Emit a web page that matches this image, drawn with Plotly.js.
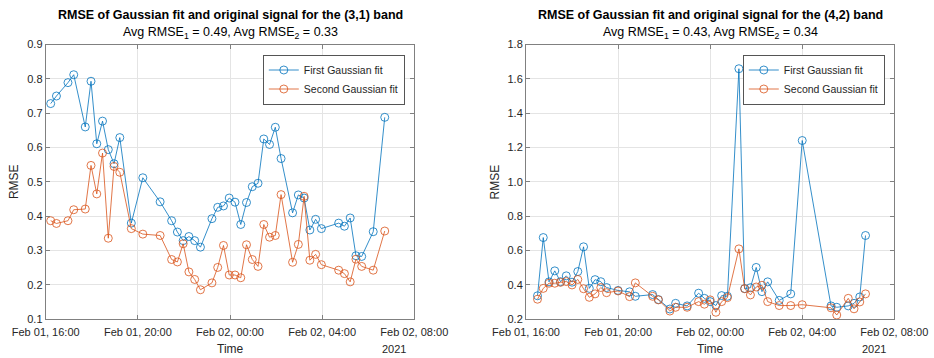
<!DOCTYPE html>
<html>
<head>
<meta charset="utf-8">
<script src="https://cdn.plot.ly/plotly-3.0.1.min.js"></script>
<style>
  html, body { margin: 0; padding: 0; background: #ffffff; }
  #chart { width: 934px; height: 358px; }
</style>
</head>
<body>
<div id="chart"></div>
<script>
// ---- (3,1) band ----
const timesBand31 = [
  '2021-02-01 16:13', '2021-02-01 16:28', '2021-02-01 16:58', '2021-02-01 17:13', '2021-02-01 17:43',
  '2021-02-01 17:58', '2021-02-01 18:13', '2021-02-01 18:28', '2021-02-01 18:43', '2021-02-01 18:58',
  '2021-02-01 19:13', '2021-02-01 19:43', '2021-02-01 20:13', '2021-02-01 20:58', '2021-02-01 21:28',
  '2021-02-01 21:43', '2021-02-01 21:58', '2021-02-01 22:13', '2021-02-01 22:28', '2021-02-01 22:43',
  '2021-02-01 23:13', '2021-02-01 23:28', '2021-02-01 23:43', '2021-02-01 23:58', '2021-02-02 00:13',
  '2021-02-02 00:28', '2021-02-02 00:43', '2021-02-02 00:58', '2021-02-02 01:13', '2021-02-02 01:28',
  '2021-02-02 01:43', '2021-02-02 01:58', '2021-02-02 02:13', '2021-02-02 02:43', '2021-02-02 02:58',
  '2021-02-02 03:13', '2021-02-02 03:28', '2021-02-02 03:43', '2021-02-02 03:58', '2021-02-02 04:43',
  '2021-02-02 04:58', '2021-02-02 05:13', '2021-02-02 05:28', '2021-02-02 05:43', '2021-02-02 06:13',
  '2021-02-02 06:43'
];
const firstFit31 = [
  0.728, 0.750, 0.789, 0.812, 0.660, 0.793, 0.611, 0.677, 0.594, 0.553,
  0.629, 0.380, 0.512, 0.442, 0.387, 0.354, 0.329, 0.341, 0.329, 0.310,
  0.393, 0.426, 0.430, 0.453, 0.441, 0.376, 0.440, 0.486, 0.496, 0.625,
  0.609, 0.659, 0.568, 0.410, 0.462, 0.453, 0.360, 0.391, 0.364, 0.380,
  0.371, 0.395, 0.285, 0.283, 0.355, 0.688
];
const secondFit31 = [
  0.387, 0.379, 0.387, 0.419, 0.421, 0.548, 0.465, 0.584, 0.336, 0.545,
  0.528, 0.364, 0.348, 0.344, 0.274, 0.267, 0.320, 0.238, 0.216, 0.186,
  0.206, 0.251, 0.315, 0.229, 0.229, 0.221, 0.317, 0.274, 0.254, 0.376,
  0.339, 0.344, 0.463, 0.266, 0.318, 0.458, 0.272, 0.289, 0.259, 0.243,
  0.233, 0.209, 0.275, 0.254, 0.243, 0.357
];

// ---- (4,2) band ----
const timesBand42 = [
  '2021-02-01 16:30', '2021-02-01 16:45', '2021-02-01 17:00', '2021-02-01 17:15', '2021-02-01 17:30',
  '2021-02-01 17:45', '2021-02-01 18:00', '2021-02-01 18:15', '2021-02-01 18:30', '2021-02-01 18:45',
  '2021-02-01 19:00', '2021-02-01 19:15', '2021-02-01 19:30', '2021-02-01 20:00', '2021-02-01 20:30',
  '2021-02-01 20:45', '2021-02-01 21:30', '2021-02-01 21:45', '2021-02-01 22:15', '2021-02-01 22:30',
  '2021-02-01 23:00', '2021-02-01 23:30', '2021-02-01 23:45', '2021-02-02 00:00', '2021-02-02 00:15',
  '2021-02-02 00:30', '2021-02-02 00:45', '2021-02-02 01:15', '2021-02-02 01:30', '2021-02-02 01:45',
  '2021-02-02 02:00', '2021-02-02 02:15', '2021-02-02 02:30', '2021-02-02 03:00', '2021-02-02 03:30',
  '2021-02-02 04:00', '2021-02-02 05:15', '2021-02-02 05:30', '2021-02-02 06:00', '2021-02-02 06:15',
  '2021-02-02 06:30', '2021-02-02 06:45'
];
const firstFit42 = [
  0.337, 0.676, 0.418, 0.482, 0.419, 0.453, 0.416, 0.478, 0.622, 0.380,
  0.431, 0.419, 0.385, 0.368, 0.360, 0.334, 0.344, 0.315, 0.260, 0.293,
  0.278, 0.352, 0.322, 0.303, 0.280, 0.338, 0.334, 1.659, 0.379, 0.384,
  0.502, 0.361, 0.418, 0.310, 0.348, 1.241, 0.278, 0.270, 0.278, 0.293,
  0.330, 0.688
];
const secondFit42 = [
  0.317, 0.380, 0.410, 0.410, 0.415, 0.420, 0.400, 0.432, 0.378, 0.328,
  0.348, 0.385, 0.355, 0.365, 0.332, 0.412, 0.334, 0.313, 0.248, 0.270,
  0.270, 0.303, 0.288, 0.313, 0.241, 0.303, 0.326, 0.610, 0.378, 0.342,
  0.388, 0.398, 0.303, 0.280, 0.280, 0.285, 0.267, 0.225, 0.322, 0.261,
  0.301, 0.348
];

// ---- shared labels ----
const tickTimes = ['2021-02-01 16:00', '2021-02-01 20:00', '2021-02-02 00:00', '2021-02-02 04:00', '2021-02-02 08:00'];
const tickLabels = ['Feb 01, 16:00', 'Feb 01, 20:00', 'Feb 02, 00:00', 'Feb 02, 04:00', 'Feb 02, 08:00'];
const seriesNames = ['First Gaussian fit', 'Second Gaussian fit'];
const bandTitles = [
  'RMSE of Gaussian fit and original signal for the (3,1) band',
  'RMSE of Gaussian fit and original signal for the (4,2) band'
];
const avgLabels = [
  'Avg RMSE<sub>1</sub> = 0.49, Avg RMSE<sub>2</sub> = 0.33',
  'Avg RMSE<sub>1</sub> = 0.43, Avg RMSE<sub>2</sub> = 0.34'
];
const yearLabel = '2021';
const xLabel = 'Time';
const yLabel = 'RMSE';

// ---- styling ----
const W = 934, H = 358;
const FONT = 'Liberation Sans, Arial, Helvetica, sans-serif';
const BLUE = '#0072BD', ORANGE = '#D95319';
const AXIS_GRAY = '#808080';
const TEXT = '#262626';

// plot-area pixel boxes for the two panels
const panels = [
  { x0: 45.7, x1: 414.3, y0: 44.5, y1: 319.3 },
  { x0: 526.0, x1: 894.3, y0: 44.5, y1: 319.3 }
];
const px = x => x / W;
const py = y => 1 - y / H;

function makeTrace(x, y, name, color, xa, ya, legendId) {
  return {
    type: 'scatter', mode: 'lines+markers',
    x: x, y: y, name: name,
    xaxis: xa, yaxis: ya, legend: legendId,
    line: { color: color, width: 0.8 },
    marker: { symbol: 'circle-open', size: 8, color: color, line: { width: 0.8, color: color } },
    hoverinfo: 'skip'
  };
}

const data = [
  makeTrace(timesBand31, firstFit31, seriesNames[0], BLUE, 'x', 'y', 'legend'),
  makeTrace(timesBand31, secondFit31, seriesNames[1], ORANGE, 'x', 'y', 'legend'),
  makeTrace(timesBand42, firstFit42, seriesNames[0], BLUE, 'x2', 'y2', 'legend2'),
  makeTrace(timesBand42, secondFit42, seriesNames[1], ORANGE, 'x2', 'y2', 'legend2')
];

function xAxis(p, anchor) {
  return {
    type: 'date', domain: [px(p.x0), px(p.x1)], anchor: anchor,
    range: [tickTimes[0], tickTimes[tickTimes.length - 1]],
    tickmode: 'array', tickvals: tickTimes, ticktext: tickLabels,
    showline: true, mirror: 'ticks', linecolor: AXIS_GRAY, linewidth: 1,
    ticks: 'inside', ticklen: 4, tickwidth: 1, tickcolor: AXIS_GRAY,
    showgrid: true, gridcolor: '#e4e4e4', gridwidth: 1, zeroline: false,
    tickfont: { family: FONT, size: 11, color: TEXT },
    ticklabelstandoff: 2,
    fixedrange: true
  };
}
function yAxis(p, anchor, lo, hi, step) {
  return {
    domain: [py(p.y1), py(p.y0)], anchor: anchor,
    range: [lo, hi], dtick: step, tick0: 0, tickformat: '.1f',
    showline: true, mirror: 'ticks', linecolor: AXIS_GRAY, linewidth: 1,
    ticks: 'inside', ticklen: 4, tickwidth: 1, tickcolor: AXIS_GRAY,
    showgrid: true, gridcolor: '#e4e4e4', gridwidth: 1, zeroline: false,
    tickfont: { family: FONT, size: 11, color: TEXT },
    fixedrange: true
  };
}

function legendBox(p) {
  return {
    x: px(p.x1 - 9.5), xanchor: 'right', y: py(p.y0 + 10), yanchor: 'top',
    bgcolor: '#ffffff', bordercolor: '#555555', borderwidth: 1,
    font: { family: FONT, size: 10.5, color: TEXT },
    itemwidth: 30, tracegroupgap: 0
  };
}

const annotations = [];
panels.forEach((p, i) => {
  const cx = (p.x0 + p.x1) / 2;
  annotations.push(
    { text: '<b>' + bandTitles[i] + '</b>', x: px(cx), y: py(15), xref: 'paper', yref: 'paper',
      xanchor: 'center', yanchor: 'middle', showarrow: false,
      font: { family: FONT, size: 12.5, color: '#000000' } },
    { text: avgLabels[i], x: px(cx), y: py(33), xref: 'paper', yref: 'paper',
      xanchor: 'center', yanchor: 'middle', showarrow: false,
      font: { family: FONT, size: 12.5, color: '#000000' } },
    { text: xLabel, x: px(cx), y: py(349), xref: 'paper', yref: 'paper',
      xanchor: 'center', yanchor: 'middle', showarrow: false,
      font: { family: FONT, size: 12, color: TEXT } },
    { text: yearLabel, x: px(p.x1 - 34.5), y: py(349), xref: 'paper', yref: 'paper',
      xanchor: 'left', yanchor: 'middle', showarrow: false,
      font: { family: FONT, size: 11, color: TEXT } },
    { text: yLabel, x: px(p.x0 - 31.5), y: py((p.y0 + p.y1) / 2), xref: 'paper', yref: 'paper',
      xanchor: 'center', yanchor: 'middle', textangle: -90, showarrow: false,
      font: { family: FONT, size: 12, color: TEXT } }
  );
});

const layout = {
  width: W, height: H,
  margin: { l: 0, r: 0, t: 0, b: 0, pad: 0 },
  paper_bgcolor: '#ffffff', plot_bgcolor: '#ffffff',
  showlegend: true,
  xaxis: xAxis(panels[0], 'y'),
  yaxis: yAxis(panels[0], 'x', 0.1, 0.9, 0.1),
  xaxis2: xAxis(panels[1], 'y2'),
  yaxis2: yAxis(panels[1], 'x2', 0.2, 1.8, 0.2),
  legend: legendBox(panels[0]),
  legend2: legendBox(panels[1]),
  annotations: annotations
};

Plotly.newPlot('chart', data, layout, { staticPlot: true, displayModeBar: false });
</script>
</body>
</html>
